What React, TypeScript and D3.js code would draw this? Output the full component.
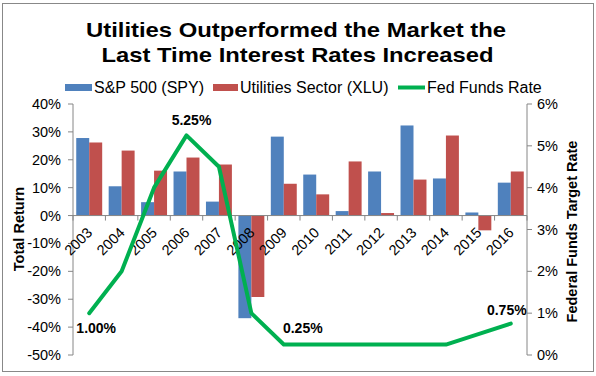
import React from "react";
import * as d3 from "d3";

const years = ["2003","2004","2005","2006","2007","2008","2009","2010","2011","2012","2013","2014","2015","2016"];
const spy = [27.8, 10.5, 4.8, 15.8, 5.0, -36.8, 28.3, 14.7, 1.6, 15.8, 32.3, 13.3, 1.1, 11.8];
const xlu = [26.2, 23.3, 16.1, 20.8, 18.3, -29.2, 11.4, 7.6, 19.4, 0.9, 12.9, 28.7, -5.3, 15.8];
const fed = [1.0, 2.0, 4.0, 5.25, 4.5, 1.0, 0.25, 0.25, 0.25, 0.25, 0.25, 0.25, 0.5, 0.75];
const leftTicks = [40, 30, 20, 10, 0, -10, -20, -30, -40, -50];
const rightTicks = [6, 5, 4, 3, 2, 1, 0];
const labeledPoints = [
  { i: 0, text: "1.00%", dx: 7, dy: 20 },
  { i: 3, text: "5.25%", dx: 5, dy: -10 },
  { i: 6, text: "0.25%", dx: 19, dy: -12 },
  { i: 13, text: "0.75%", dx: -4, dy: -9 },
];

const FONT = "'Liberation Sans', Arial, sans-serif";
const BLUE = "#4F81BD";
const RED = "#C0504D";
const GREEN = "#00B050";
const AXIS = "#868686";

export default function App() {
  const left = 73, right = 527, top = 104, bottom = 355;
  const x = d3.scaleBand<string>().domain(years).range([left, right]).padding(0);
  const bw = x.bandwidth();
  const barW = bw / 2.5;
  const off = bw * 0.1;
  const yL = d3.scaleLinear().domain([-50, 40]).range([bottom, top]);
  const yR = d3.scaleLinear().domain([0, 6]).range([bottom, top]);
  const y0 = yL(0);
  const cx = (i: number) => (x(years[i]) as number) + bw / 2;
  const line = d3.line<number>().x((_, i) => cx(i)).y((d) => yR(d));

  return (
    <svg width={596} height={376} style={{ position: "absolute", left: 0, top: 0, fontFamily: FONT }}>
      <rect x={0} y={0} width={596} height={376} fill="#fff" />
      <rect x={2.5} y={3.5} width={591} height={368} fill="#fff" stroke="#888" strokeWidth={1} />
      <text x={296} y={37} textAnchor="middle" fontSize={21} fontWeight="bold" textLength={420} lengthAdjust="spacingAndGlyphs">Utilities Outperformed the Market the</text>
      <text x={297.5} y={62} textAnchor="middle" fontSize={21} fontWeight="bold" textLength={392} lengthAdjust="spacingAndGlyphs">Last Time Interest Rates Increased</text>

      {/* legend */}
      <rect x={65} y={84} width={27} height={7} fill={BLUE} />
      <text x={94} y={93.3} fontSize={16}>S&amp;P 500 (SPY)</text>
      <rect x={213} y={84} width={25} height={7} fill={RED} />
      <text x={240} y={93.3} fontSize={16}>Utilities Sector (XLU)</text>
      <line x1={398} x2={425} y1={87.5} y2={87.5} stroke={GREEN} strokeWidth={4} />
      <text x={427} y={93.3} fontSize={16}>Fed Funds Rate</text>

      {/* bars */}
      {years.map((yr, i) => (
        <g key={yr}>
          <rect x={(x(yr) as number) + off} y={Math.min(yL(spy[i]), y0)} width={barW} height={Math.abs(yL(spy[i]) - y0)} fill={BLUE} />
          <rect x={(x(yr) as number) + off + barW} y={Math.min(yL(xlu[i]), y0)} width={barW} height={Math.abs(yL(xlu[i]) - y0)} fill={RED} />
        </g>
      ))}

      {/* left axis */}
      <line x1={left} x2={left} y1={top} y2={bottom} stroke={AXIS} />
      {leftTicks.map((t) => (
        <g key={t}>
          <line x1={left - 5} x2={left} y1={yL(t)} y2={yL(t)} stroke={AXIS} />
          <text x={61} y={yL(t) + 5} textAnchor="end" fontSize={14.5}>{t + "%"}</text>
        </g>
      ))}
      {/* right axis */}
      <line x1={right} x2={right} y1={top} y2={bottom} stroke={AXIS} />
      {rightTicks.map((t) => (
        <g key={t}>
          <line x1={right} x2={right + 5} y1={yR(t)} y2={yR(t)} stroke={AXIS} />
          <text x={537} y={yR(t) + 5} textAnchor="start" fontSize={14.5}>{t + "%"}</text>
        </g>
      ))}
      {/* x axis */}
      <line x1={left} x2={right} y1={y0} y2={y0} stroke={AXIS} />
      {years.map((yr, i) => (
        <line key={"t" + yr} x1={(x(yr) as number)} x2={(x(yr) as number)} y1={y0} y2={y0 + 5} stroke={AXIS} />
      ))}
      <line x1={right} x2={right} y1={y0} y2={y0 + 5} stroke={AXIS} />
      {years.map((yr, i) => (
        <text key={"l" + yr} transform={`translate(${cx(i) + 4},${y0 + 18}) rotate(-45)`} textAnchor="end" fontSize={14.5}>{yr}</text>
      ))}

      {/* axis titles */}
      <text transform="translate(24,229) rotate(-90)" textAnchor="middle" fontSize={14.5} fontWeight="bold">Total Return</text>
      <text transform="translate(577,231.5) rotate(-90)" textAnchor="middle" fontSize={14.5} fontWeight="bold">Federal Funds Target Rate</text>

      {/* fed line */}
      <path d={line(fed) as string} fill="none" stroke={GREEN} strokeWidth={4} strokeLinejoin="round" strokeLinecap="round" />
      {labeledPoints.map((p) => (
        <text key={p.text} x={cx(p.i) + p.dx} y={yR(fed[p.i]) + p.dy} textAnchor="middle" fontSize={14} fontWeight="bold">{p.text}</text>
      ))}
    </svg>
  );
}
